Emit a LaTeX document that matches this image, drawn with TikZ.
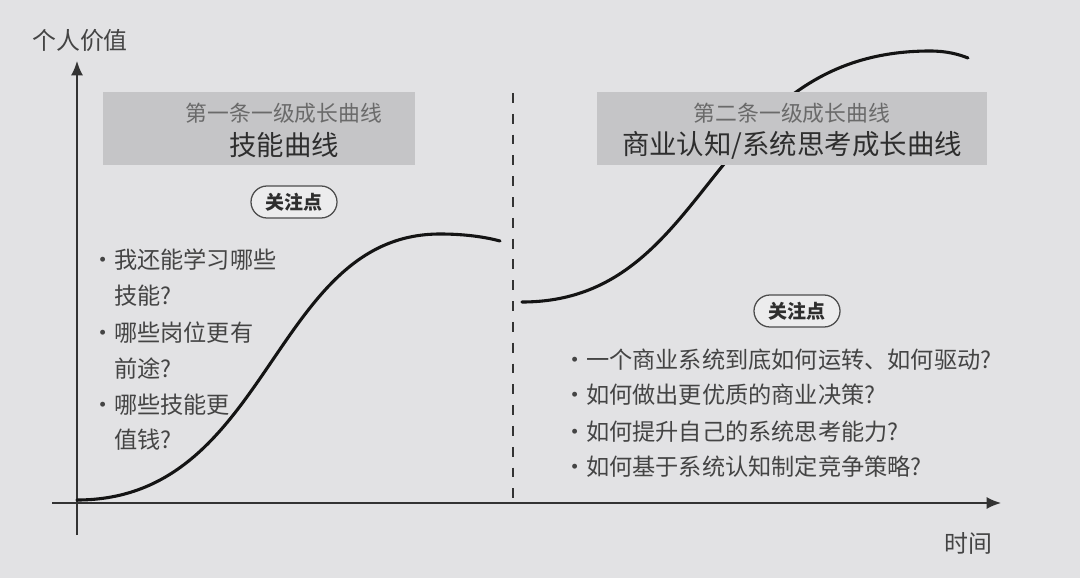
\documentclass[tikz,border=0pt]{standalone}
\usepackage{fontspec}
\setmainfont{Noto Sans CJK SC}
\usetikzlibrary{arrows.meta,positioning}

\definecolor{bggray}{HTML}{E2E2E4}
\definecolor{boxgray}{HTML}{C5C5C7}
\definecolor{pillgray}{HTML}{ECECED}
\definecolor{txtdark}{HTML}{2E2E2E}
\definecolor{txtmid}{HTML}{444444}
\definecolor{txtlight}{HTML}{6A6A6A}

% bullet set in a fixed slot, dot centred near its left edge
\newcommand{\itm}[1]{\makebox[0.37cm][l]{\hspace{0.1cm}\makebox[0pt][c]{•}}#1}

\begin{document}
\begin{tikzpicture}[
  x=0.025cm,y=-0.025cm,
  axis/.style={draw=black!80,line width=1.1pt,-{Latex[length=3.6mm,width=3mm]}},
  divider/.style={draw=black!80,line width=1.1pt,dash pattern=on 7pt off 7.8pt},
  growth/.style={draw=black!92,line width=2.2pt,line cap=round},
  header/.style={fill=boxgray,inner sep=0pt,minimum height=1.83cm},
  subtitle/.style={font=\fontsize{15.5}{18}\selectfont,text=txtlight,inner sep=0pt},
  title/.style={font=\fontsize{19.5}{23}\selectfont,text=txtdark,inner sep=0pt},
  pill/.style={draw=black!70,fill=pillgray,line width=0.9pt,rounded corners=0.4cm,
    minimum width=2.15cm,minimum height=0.8cm,inner sep=0pt,
    font=\fontsize{13.5}{16}\selectfont\bfseries,text=txtdark},
  item/.style={anchor=west,inner sep=0pt,font=\fontsize{16.5}{20}\selectfont,text=txtmid},
  axislabel/.style={inner sep=0pt,font=\fontsize{17}{20}\selectfont,text=txtmid}
]
\useasboundingbox[fill=bggray] (0,0) rectangle (1080,578);

% axes
\coordinate (ybot) at (77,535);
\coordinate (ytop) at (77,61);
\coordinate (xleft) at (52,503);
\coordinate (xright) at (1001,503);
\draw[axis] (ybot) -- (ytop);
\draw[axis] (xleft) -- (xright);
\node[axislabel] (yname) at (80,40) {个人价值};
\node[axislabel] (xname) at (968,543) {时间};

% divider between the two curves
\coordinate (dtop) at (513,93);
\coordinate (dbot) at (513,503);
\draw[divider] (dtop) -- (dbot);

% first curve: skills
\coordinate (sA) at (77,500);
\coordinate (pA) at (440,234);
\coordinate (eA) at (500,241);
\draw[growth] (sA) .. controls (271,500) and (271,234) .. (pA)
  .. controls (465,234) and (485,237) .. (eA);

% second curve: business cognition (runs behind its header)
\coordinate (sB) at (522,302);
\coordinate (pB) at (930,51);
\coordinate (eB) at (968,58);
\draw[growth] (sB) .. controls (714,302) and (706,51) .. (pB)
  .. controls (946,51) and (958,54) .. (eB);

% headers
\node[header,minimum width=7.8cm] (headA) at (259,128.5) {};
\node[subtitle] (subA) at (284,113) {第一条一级成长曲线};
\node[title] (titleA) at (284,145) {技能曲线};

\node[header,minimum width=9.75cm] (headB) at (792,128.5) {};
\node[subtitle] (subB) at (792,113) {第二条一级成长曲线};
\node[title] (titleB) at (792,145) {商业认知/系统思考成长曲线};

% focus points
\node[pill] (focusA) at (294,202) {关注点};
\node[item] (a1) at (99,260) {\itm{我还能学习哪些}};
\node[item] (a1b) at (114,296) {技能?};
\node[item] (a2) at (99,333) {\itm{哪些岗位更有}};
\node[item] (a2b) at (114,369) {前途?};
\node[item] (a3) at (99,405) {\itm{哪些技能更}};
\node[item] (a3b) at (114,440) {值钱?};

\node[pill] (focusB) at (797,311) {关注点};
\node[item] (b1) at (571,360) {\itm{一个商业系统到底如何运转、如何驱动?}};
\node[item] (b2) at (571,395) {\itm{如何做出更优质的商业决策?}};
\node[item] (b3) at (571,432) {\itm{如何提升自己的系统思考能力?}};
\node[item] (b4) at (571,467) {\itm{如何基于系统认知制定竞争策略?}};
\end{tikzpicture}
\end{document}
